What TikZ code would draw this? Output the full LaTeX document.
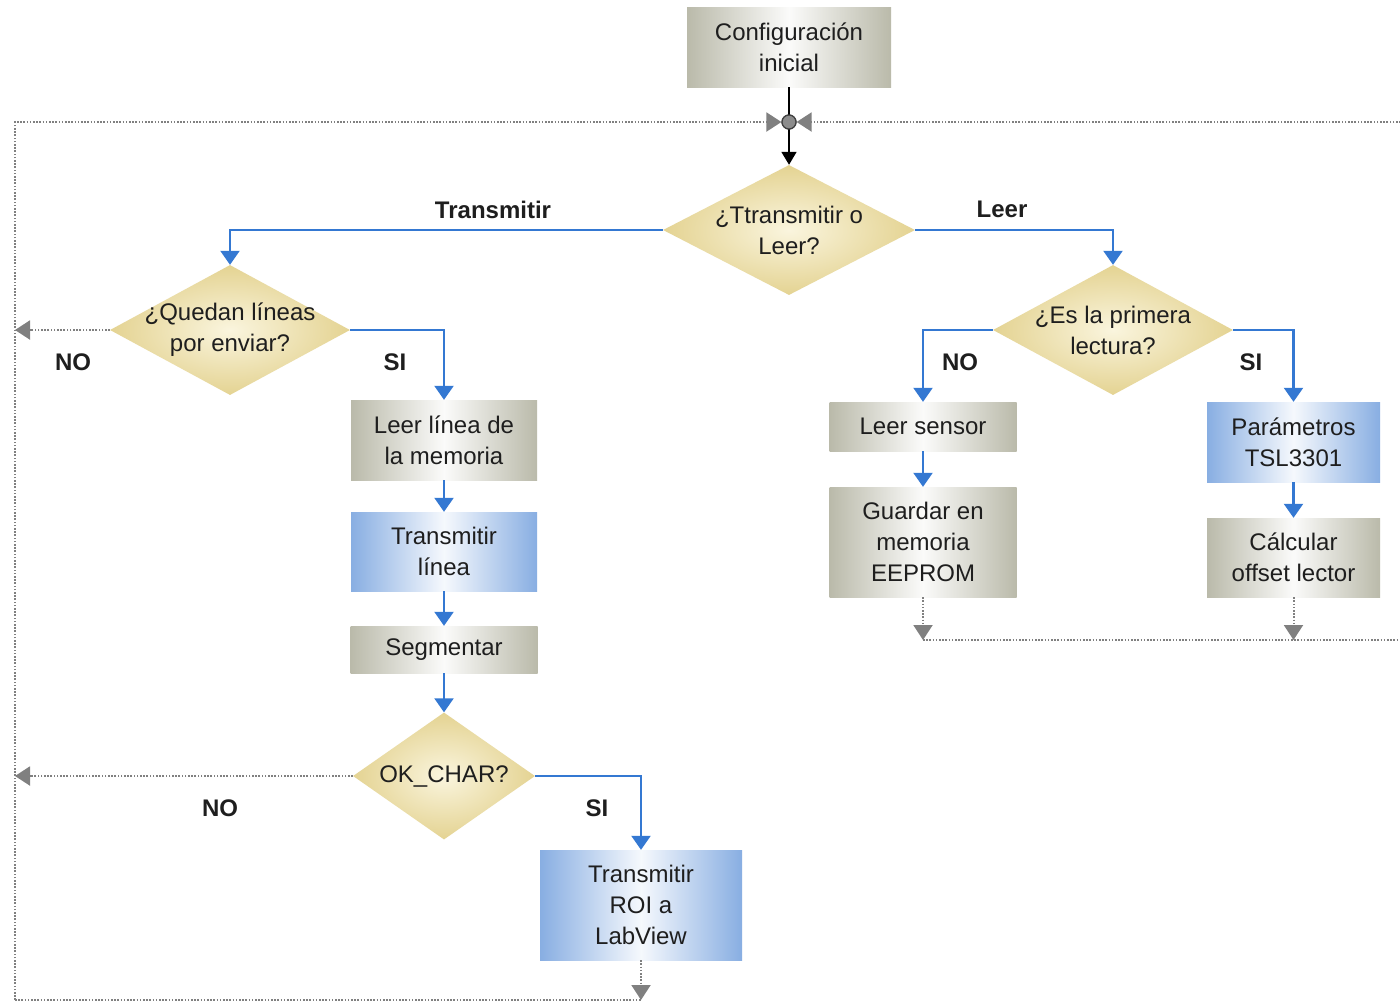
\documentclass[tikz,border=0pt]{standalone}
\usepackage{fontspec}
\setmainfont{Liberation Sans}
\usetikzlibrary{shapes.geometric,arrows.meta}

\definecolor{boxgray}{RGB}{186,186,170}
\definecolor{boxblue}{RGB}{136,174,226}
\definecolor{decout}{RGB}{228,211,146}
\definecolor{decin}{RGB}{250,245,222}
\definecolor{flowblue}{RGB}{52,120,210}
\definecolor{loopgray}{RGB}{128,128,128}
\definecolor{txt}{RGB}{30,30,30}

\tikzset{
  every node/.style={text=txt, font=\fontsize{24}{31}\selectfont},
  graybox/.style={rectangle, inner sep=0pt, align=center,
    left color=boxgray, right color=boxgray, middle color=white!94!boxgray},
  bluebox/.style={rectangle, inner sep=0pt, align=center,
    left color=boxblue, right color=boxblue, middle color=white!92!boxblue},
  decision/.style={diamond, inner sep=0pt, inner color=decin, outer color=decout},
  lbl/.style={font=\bfseries\fontsize{24}{28}\selectfont},
  flow/.style={draw=flowblue, line width=2.2pt,
    -{Triangle[width=19pt,length=14pt,fill=flowblue]}},
  loop/.style={draw=loopgray, line width=2pt, dash pattern=on 1.6pt off 1.6pt},
  looparrow/.style={loop, -{Triangle[width=19pt,length=15pt,fill=loopgray]}},
  junction/.style={circle, draw=black!75, fill=black!45, minimum size=14pt,
    inner sep=0pt, line width=1.2pt},
}

\begin{document}
\begin{tikzpicture}[x=1pt,y=-1pt]
\useasboundingbox (0,0) rectangle (1400,1005);
\fill[white] (0,0) rectangle (1400,1005);
\clip (0,0) rectangle (1400,1005);

% start block and loop junction
\node[graybox, minimum width=204pt, minimum height=80pt] (cfg) at (789,47) {Configuración\\inicial};
\node[junction] (jn) at (789,122) {};

% decisions
\node[decision, minimum width=252pt, minimum height=130pt] (d1) at (789,230) {};
\node[align=center] (d1t) at (d1) {¿Ttransmitir o\\Leer?};
\node[decision, minimum width=240pt, minimum height=130pt] (d2) at (230,330) {};
\node[align=center] (d2t) at (d2) {¿Quedan líneas\\por enviar?};
\node[decision, minimum width=240pt, minimum height=130pt] (d3) at (1113,330) {};
\node[align=center] (d3t) at (d3) {¿Es la primera\\lectura?};
\node[decision, minimum width=182pt, minimum height=127pt] (d4) at (444,776) {};
\node (d4t) at (d4) {OK\_CHAR?};

% transmit branch
\node[graybox, minimum width=186pt, minimum height=80pt] (rdline) at (444,440) {Leer línea de\\la memoria};
\node[bluebox, minimum width=186pt, minimum height=79pt] (txline) at (444,551.5) {Transmitir\\línea};
\node[graybox, minimum width=187pt, minimum height=47pt] (seg) at (444,649.5) {Segmentar};
\node[bluebox, minimum width=202pt, minimum height=110pt] (roi) at (641,905) {Transmitir\\ROI a\\LabView};

% read branch
\node[graybox, minimum width=187pt, minimum height=49pt] (sensor) at (923,426.5) {Leer sensor};
\node[graybox, minimum width=187pt, minimum height=110pt] (eeprom) at (923,542) {Guardar en\\memoria\\EEPROM};
\node[bluebox, minimum width=173pt, minimum height=80pt] (param) at (1293.5,442) {Parámetros\\TSL3301};
\node[graybox, minimum width=173pt, minimum height=79pt] (calc) at (1293.5,557.5) {Cálcular\\offset lector};

% branch labels
\node[lbl] (lt) at (493,210) {Transmitir};
\node[lbl] (ll) at (1002,209) {Leer};
\node[lbl] (no1) at (73,362) {NO};
\node[lbl] (si1) at (395,362) {SI};
\node[lbl] (no2) at (960,362) {NO};
\node[lbl] (si2) at (1251,362) {SI};
\node[lbl] (no3) at (220,808) {NO};
\node[lbl] (si3) at (597,808) {SI};

% loop-back corners
\coordinate (lpTL) at (15,122);
\coordinate (lpBL) at (15,1000);
\coordinate (roiEnd) at (641,1000);
\coordinate (rjA) at (923,640);
\coordinate (rjB) at (1293.5,640);
\coordinate (lpR) at (1420,640);
\coordinate (lpTR) at (1420,122);

% dotted return paths
\draw[loop] (lpBL) -- (roiEnd);
\draw[looparrow] (lpBL) -- (lpTL) -- (jn.west);
\draw[looparrow] (lpTR) -- (jn.east);
\draw[loop] (rjA) -- (lpR);
\draw[looparrow] (roi.south) -- (roiEnd);
\draw[looparrow] (eeprom.south) -- (rjA);
\draw[looparrow] (calc.south) -- (rjB);
\draw[looparrow] (d2.west) -- (d2.west -| lpTL);
\draw[looparrow] (d4.west) -- (d4.west -| lpTL);

% main flow
\draw[black, line width=1.8pt, -{Triangle[width=15pt,length=13pt]}] (cfg.south) -- (d1.north);
\node[junction] (jn2) at (jn) {};
\draw[flow] (d1.west) -| (d2.north);
\draw[flow] (d1.east) -| (d3.north);
\draw[flow] (d2.east) -| (rdline.north);
\draw[flow] (rdline) -- (txline);
\draw[flow] (txline) -- (seg);
\draw[flow] (seg.south) -- (d4.north);
\draw[flow] (d4.east) -| (roi.north);
\draw[flow] (d3.west) -| (sensor.north);
\draw[flow] (d3.east) -| (param.north);
\draw[flow] (sensor) -- (eeprom);
\draw[flow] (param) -- (calc);
\end{tikzpicture}
\end{document}
